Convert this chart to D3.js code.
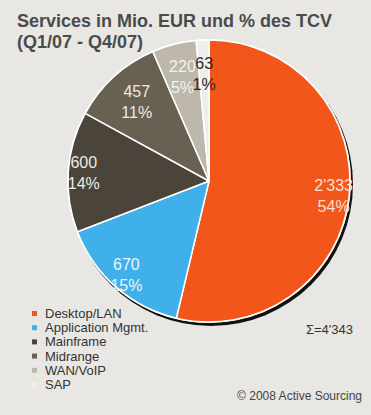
<!DOCTYPE html>
<html>
<head>
<meta charset="utf-8">
<script src="https://cdn.jsdelivr.net/npm/d3@7"></script>
<style>
  html, body { margin: 0; padding: 0; background: #e8e7e3; }
  svg { display: block; font-family: "Liberation Sans", Arial, sans-serif; }
</style>
</head>
<body>
<svg id="chart" width="371" height="415"></svg>
<script>
// Data
const categories = ['Desktop/LAN', 'Application Mgmt.', 'Mainframe', 'Midrange', 'WAN/VoIP', 'SAP'];
const values = [2333, 670, 600, 457, 220, 63];
const colors = ['#f2561a', '#3fb0ea', '#4a443a', '#686051', '#bdb8ab', '#efeeea'];
const labelColors = ['#fbe0d2', '#eaf6fd', '#ecebe6', '#ecebe6', '#f3f2ee', '#2a2a2a'];

const titleLines = ['Services in Mio. EUR und % des TCV', '(Q1/07 - Q4/07)'];
const footer = '\u00a9 2008 Active Sourcing';

const width = 371, height = 415;
const cx = 209, cy = 181, radius = 141;

const svg = d3.select('#chart');

// background
svg.append('rect')
  .attr('width', width)
  .attr('height', height)
  .attr('fill', '#e8e7e3');

// title
svg.append('g')
  .selectAll('text')
  .data(titleLines)
  .enter().append('text')
  .attr('x', 17)
  .attr('y', (d, i) => 27 + i * 21)
  .attr('font-size', '18px')
  .attr('font-weight', 'bold')
  .attr('fill', '#4b4b4b')
  .text(d => d);

const total = d3.sum(values);
const fmt = d3.formatLocale({ decimal: '.', thousands: "'", grouping: [3], currency: ['', ''] }).format(',');

const slices = categories.map((c, i) => ({ name: c, value: values[i], color: colors[i], labelColor: labelColors[i] }));

const pie = d3.pie()
  .sort(null)
  .value(d => d.value);

const arcs = pie(slices);

const arc = d3.arc()
  .innerRadius(0)
  .outerRadius(radius);

const g = svg.append('g')
  .attr('transform', `translate(${cx},${cy})`);

// drop shadow under the pie
g.append('circle')
  .attr('cx', 2)
  .attr('cy', 3)
  .attr('r', radius + 1)
  .attr('fill', '#111');

g.append('circle')
  .attr('r', radius + 1)
  .attr('fill', '#ffffff');

// slices
g.append('g')
  .selectAll('path')
  .data(arcs)
  .enter().append('path')
  .attr('d', arc)
  .attr('fill', d => d.data.color)
  .attr('stroke', '#ffffff')
  .attr('stroke-width', 1.5)
  .attr('stroke-linejoin', 'round');

// labels: big slices sit near the rim, small ones a bit further in
const labelArc = d => {
  const f = d.data.value / total > 0.12 ? 0.89 : 0.76;
  return d3.arc().innerRadius(radius * f).outerRadius(radius * f).centroid(d);
};

const label = g.append('g')
  .selectAll('text')
  .data(arcs)
  .enter().append('text')
  .attr('text-anchor', 'middle')
  .attr('font-size', '16px')
  .attr('fill', d => d.data.labelColor)
  .attr('transform', d => `translate(${labelArc(d)})`);

label.append('tspan')
  .attr('x', 0)
  .attr('y', -5)
  .text(d => fmt(d.data.value));

label.append('tspan')
  .attr('x', 0)
  .attr('y', 16)
  .text(d => Math.round(d.data.value / total * 100) + '%');

// legend
const legend = svg.append('g')
  .attr('transform', 'translate(32,318)')
  .selectAll('g')
  .data(slices)
  .enter().append('g')
  .attr('transform', (d, i) => `translate(0,${i * 14.2})`);

legend.append('rect')
  .attr('x', 0)
  .attr('y', -7)
  .attr('width', 5)
  .attr('height', 5)
  .attr('fill', d => d.color);

legend.append('text')
  .attr('x', 13)
  .attr('y', 0)
  .attr('font-size', '13px')
  .attr('textLength', d => null)
  .attr('fill', '#333')
  .text(d => d.name);

// total
svg.append('text')
  .attr('x', 353)
  .attr('y', 334)
  .attr('text-anchor', 'end')
  .attr('font-size', '13px')
  .attr('fill', '#333')
  .text('\u03a3=' + fmt(total));

svg.append('text')
  .attr('x', 362)
  .attr('y', 400)
  .attr('text-anchor', 'end')
  .attr('font-size', '12px')
  .attr('fill', '#444')
  .text(footer);
</script>
</body>
</html>
